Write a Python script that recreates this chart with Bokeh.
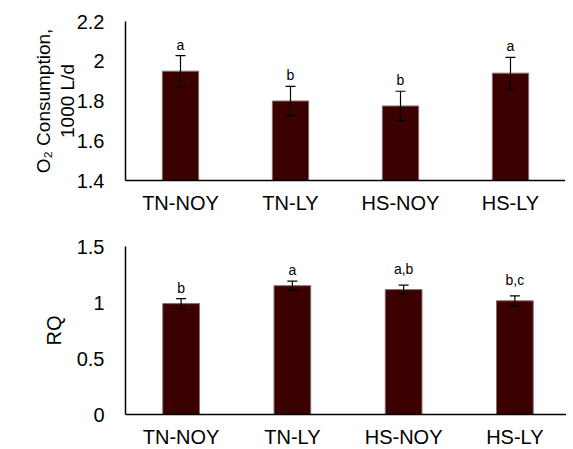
from bokeh.plotting import figure
from bokeh.models import ColumnDataSource, Whisker, TeeHead, FixedTicker, NumeralTickFormatter, Range1d, FactorRange
from bokeh.layouts import column
from bokeh.embed import file_html
from bokeh.resources import INLINE
from bokeh.core.properties import value

categories = ["TN-NOY", "TN-LY", "HS-NOY", "HS-LY"]
o2_mean = [1.95, 1.80, 1.775, 1.94]
o2_err = [0.078, 0.074, 0.074, 0.08]
o2_letters = ["a", "b", "b", "a"]
o2_ticks = [1.4, 1.6, 1.8, 2.0, 2.2]

rq_mean = [0.99, 1.15, 1.115, 1.015]
rq_err = [0.045, 0.04, 0.04, 0.045]
rq_letters = ["b", "a", "a,b", "b,c"]
rq_ticks = [0, 0.5, 1.0, 1.5]

FONT = "Liberation Sans"
BAR = "#3b0000"


def make(means, errs, letters, ticks, ylabel, label_size, label_standoff,
         fw, fh, bl, br, bt, bb):
    src = ColumnDataSource(dict(
        x=categories, top=means,
        upper=[m + e for m, e in zip(means, errs)],
        lower=[m - e for m, e in zip(means, errs)],
        lab=letters,
        off=[-16 if "," in l else -11 for l in letters],
    ))
    p = figure(x_range=FactorRange(*categories, range_padding=0),
               y_range=Range1d(ticks[0], ticks[-1]),
               frame_width=fw, frame_height=fh,
               min_border_left=bl, min_border_right=br,
               min_border_top=bt, min_border_bottom=bb,
               output_backend="svg", toolbar_location=None)
    p.vbar(x="x", top="top", bottom=ticks[0], width=0.33, source=src,
           fill_color=BAR, line_color="#8a6a6a", line_width=1)
    w = Whisker(base="x", upper="upper", lower="lower", source=src,
                line_color="black", line_width=1.2, level="overlay",
                upper_head=TeeHead(size=10, line_color="black", line_width=1.2),
                lower_head=TeeHead(size=10, line_color="black", line_width=1.2))
    p.add_layout(w)
    p.text(x="x", y="upper", text="lab", y_offset="off", source=src,
           text_align="center", text_baseline="alphabetic",
           text_font=value(FONT), text_font_size="14px", text_color="black")
    p.xgrid.visible = False
    p.ygrid.visible = False
    p.outline_line_color = None
    for ax in (p.xaxis[0], p.yaxis[0]):
        ax.major_tick_line_color = None
        ax.minor_tick_line_color = None
        ax.axis_line_color = "black"
        ax.axis_line_width = 1.5
        ax.major_label_text_font = FONT
        ax.major_label_text_font_size = "20px"
        ax.major_label_text_color = "black"
    p.xaxis.major_label_standoff = 5
    p.yaxis.major_label_standoff = 15
    p.yaxis.ticker = FixedTicker(ticks=ticks)
    p.yaxis.formatter = NumeralTickFormatter(format="0.[0]")
    p.yaxis.axis_label = ylabel
    p.yaxis.axis_label_text_font = FONT
    p.yaxis.axis_label_text_font_style = "normal"
    p.yaxis.axis_label_text_font_size = label_size
    p.yaxis.axis_label_text_line_height = 1.15
    p.yaxis.axis_label_text_color = "black"
    p.yaxis.axis_label_standoff = label_standoff
    return p


p1 = make(o2_mean, o2_err, o2_letters, o2_ticks, "O\u2082 Consumption,\n1000 L/d", "19px", -4,
          440, 159, 125, 0, 21, 50)
p2 = make(rq_mean, rq_err, rq_letters, rq_ticks, "RQ", "20px", 9,
          445, 168, 121, 0, 16, 30)

layout = column(p1, p2, spacing=0)
open("out.html", "w").write(file_html(layout, INLINE))
